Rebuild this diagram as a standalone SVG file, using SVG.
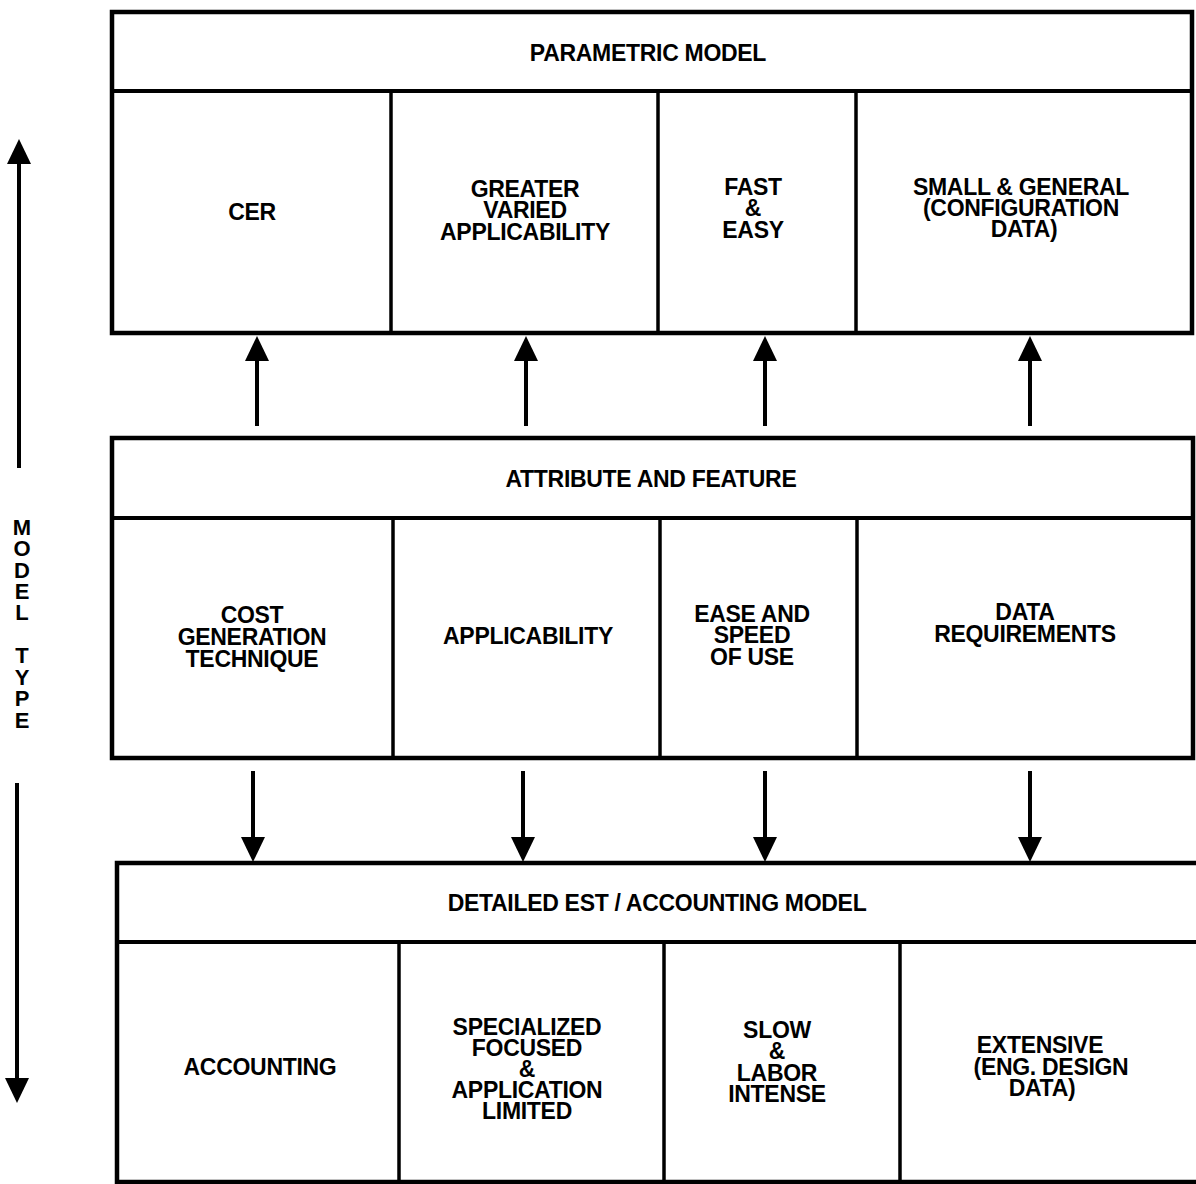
<svg xmlns="http://www.w3.org/2000/svg" width="1196" height="1184" viewBox="0 0 1196 1184">
  <style>
    .frame { fill: #fff; stroke: #000; stroke-width: 4.5; }
    .rule { stroke: #000; stroke-width: 4; fill: none; }
    .div { stroke: #000; stroke-width: 3.5; fill: none; }
    .lbl { font-family: "Liberation Sans", Arial, Helvetica, sans-serif; font-size: 23px; font-weight: bold; letter-spacing: -0.3px; text-anchor: middle; fill: #000; }
    .side { font-family: "Liberation Sans", Arial, Helvetica, sans-serif; font-size: 22px; font-weight: bold; text-anchor: middle; fill: #000; }
    .shaft { stroke: #000; stroke-width: 4; fill: none; marker-end: url(#head); }
  </style>
  <defs>
    <marker id="head" markerUnits="userSpaceOnUse" markerWidth="26" markerHeight="26" refX="0" refY="12" orient="auto" viewBox="0 0 26 24">
      <path d="M0,0 L25,12 L0,24 Z" fill="#000"/>
    </marker>
  </defs>
  <rect width="1196" height="1184" fill="#fff"/>

  <!-- vertical axis: model type -->
  <g id="axis-model-type">
    <line class="shaft" x1="19" y1="468" x2="19" y2="164"/>
    <line class="shaft" x1="17" y1="783" x2="17" y2="1078"/>
    <text class="side" x="22" y="535">M</text>
    <text class="side" x="22" y="556">O</text>
    <text class="side" x="22" y="578">D</text>
    <text class="side" x="22" y="599">E</text>
    <text class="side" x="22" y="620">L</text>
    <text class="side" x="22" y="663">T</text>
    <text class="side" x="22" y="685">Y</text>
    <text class="side" x="22" y="706">P</text>
    <text class="side" x="22" y="728">E</text>
  </g>

  <!-- top tier: parametric model -->
  <g id="parametric-model">
    <rect class="frame" x="112" y="12" width="1080" height="321"/>
    <line class="rule" x1="112" y1="91" x2="1192" y2="91"/>
    <line class="div" x1="391" y1="91" x2="391" y2="333"/>
    <line class="div" x1="658" y1="91" x2="658" y2="333"/>
    <line class="div" x1="856" y1="91" x2="856" y2="333"/>
    <text class="lbl" x="648" y="61">PARAMETRIC MODEL</text>
    <g id="pm-cer"><text class="lbl" x="252" y="220">CER</text></g>
    <g id="pm-applicability">
      <text class="lbl" x="525" y="197">GREATER</text>
      <text class="lbl" x="525" y="218">VARIED</text>
      <text class="lbl" x="525" y="240">APPLICABILITY</text>
    </g>
    <g id="pm-speed">
      <text class="lbl" x="753" y="195">FAST</text>
      <text class="lbl" x="753" y="216">&amp;</text>
      <text class="lbl" x="753" y="238">EASY</text>
    </g>
    <g id="pm-data">
      <text class="lbl" x="1021" y="195">SMALL &amp; GENERAL</text>
      <text class="lbl" x="1021" y="216">(CONFIGURATION</text>
      <text class="lbl" x="1024" y="237">DATA)</text>
    </g>
  </g>

  <!-- middle tier: attribute and feature -->
  <g id="attribute-feature">
    <rect class="frame" x="112" y="438" width="1081" height="320"/>
    <line class="rule" x1="112" y1="518" x2="1193" y2="518"/>
    <line class="div" x1="393" y1="518" x2="393" y2="758"/>
    <line class="div" x1="660" y1="518" x2="660" y2="758"/>
    <line class="div" x1="857" y1="518" x2="857" y2="758"/>
    <text class="lbl" x="651" y="487">ATTRIBUTE AND FEATURE</text>
    <g id="af-technique">
      <text class="lbl" x="252" y="623">COST</text>
      <text class="lbl" x="252" y="645">GENERATION</text>
      <text class="lbl" x="252" y="667">TECHNIQUE</text>
    </g>
    <g id="af-applicability"><text class="lbl" x="528" y="644">APPLICABILITY</text></g>
    <g id="af-ease">
      <text class="lbl" x="752" y="622">EASE AND</text>
      <text class="lbl" x="752" y="643">SPEED</text>
      <text class="lbl" x="752" y="665">OF USE</text>
    </g>
    <g id="af-data">
      <text class="lbl" x="1025" y="620">DATA</text>
      <text class="lbl" x="1025" y="642">REQUIREMENTS</text>
    </g>
  </g>

  <!-- bottom tier: detailed estimate / accounting model -->
  <g id="detailed-model">
    <rect class="frame" x="117" y="863" width="1090" height="319"/>
    <line class="rule" x1="117" y1="942" x2="1200" y2="942"/>
    <line class="div" x1="399" y1="942" x2="399" y2="1182"/>
    <line class="div" x1="664" y1="942" x2="664" y2="1182"/>
    <line class="div" x1="900" y1="942" x2="900" y2="1182"/>
    <text class="lbl" x="657" y="911">DETAILED EST / ACCOUNTING MODEL</text>
    <g id="dm-accounting"><text class="lbl" x="260" y="1075">ACCOUNTING</text></g>
    <g id="dm-specialized">
      <text class="lbl" x="527" y="1035">SPECIALIZED</text>
      <text class="lbl" x="527" y="1056">FOCUSED</text>
      <text class="lbl" x="527" y="1077">&amp;</text>
      <text class="lbl" x="527" y="1098">APPLICATION</text>
      <text class="lbl" x="527" y="1119">LIMITED</text>
    </g>
    <g id="dm-slow">
      <text class="lbl" x="777" y="1038">SLOW</text>
      <text class="lbl" x="777" y="1059">&amp;</text>
      <text class="lbl" x="777" y="1081">LABOR</text>
      <text class="lbl" x="777" y="1102">INTENSE</text>
    </g>
    <g id="dm-extensive">
      <text class="lbl" x="1040" y="1053">EXTENSIVE</text>
      <text class="lbl" x="1051" y="1075">(ENG. DESIGN</text>
      <text class="lbl" x="1042" y="1096">DATA)</text>
    </g>
  </g>

  <!-- connectors between tiers -->
  <g id="connectors">
    <line class="shaft" x1="257" y1="426" x2="257" y2="361"/>
    <line class="shaft" x1="526" y1="426" x2="526" y2="361"/>
    <line class="shaft" x1="765" y1="426" x2="765" y2="361"/>
    <line class="shaft" x1="1030" y1="426" x2="1030" y2="361"/>
    <line class="shaft" x1="253" y1="771" x2="253" y2="837"/>
    <line class="shaft" x1="523" y1="771" x2="523" y2="837"/>
    <line class="shaft" x1="765" y1="771" x2="765" y2="837"/>
    <line class="shaft" x1="1030" y1="771" x2="1030" y2="837"/>
  </g>
</svg>
